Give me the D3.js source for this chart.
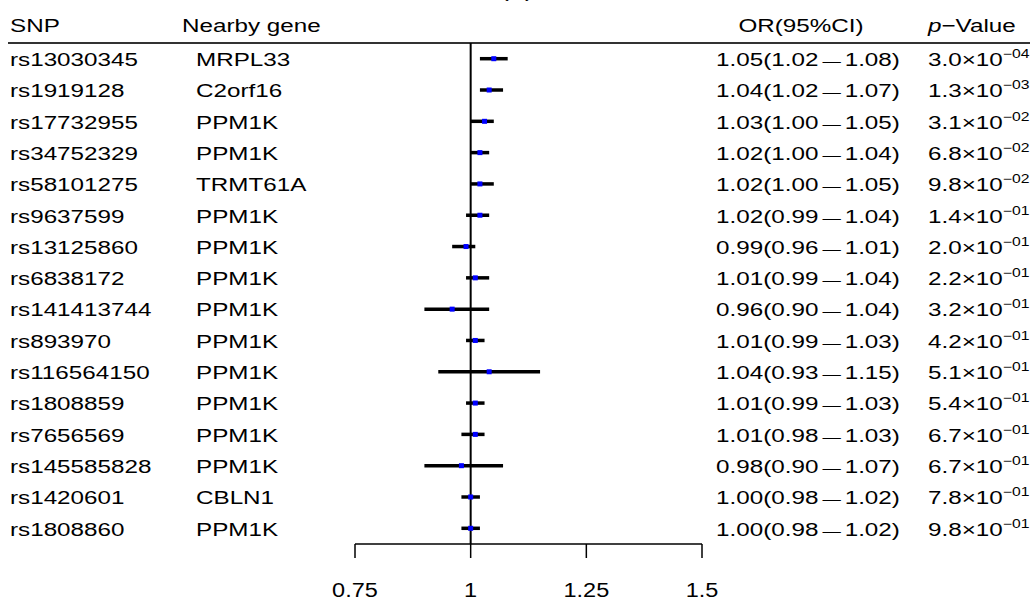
<!DOCTYPE html>
<html><head><meta charset="utf-8">
<script src="https://cdn.jsdelivr.net/npm/d3@7"></script>
<style>body{margin:0;background:#fff;} text{font-family:"Liberation Sans",Arial,sans-serif;fill:#000;}</style>
</head><body>
<svg id="c" width="1036" height="599"></svg>
<script>
const snps = ["rs13030345","rs1919128","rs17732955","rs34752329","rs58101275","rs9637599","rs13125860","rs6838172","rs141413744","rs893970","rs116564150","rs1808859","rs7656569","rs145585828","rs1420601","rs1808860"];
const genes = ["MRPL33","C2orf16","PPM1K","PPM1K","TRMT61A","PPM1K","PPM1K","PPM1K","PPM1K","PPM1K","PPM1K","PPM1K","PPM1K","PPM1K","CBLN1","PPM1K"];
const orVals = [1.05,1.04,1.03,1.02,1.02,1.02,0.99,1.01,0.96,1.01,1.04,1.01,1.01,0.98,1.00,1.00];
const ciLow  = [1.02,1.02,1.00,1.00,1.00,0.99,0.96,0.99,0.90,0.99,0.93,0.99,0.98,0.90,0.98,0.98];
const ciHigh = [1.08,1.07,1.05,1.04,1.05,1.04,1.01,1.04,1.04,1.03,1.15,1.03,1.03,1.07,1.02,1.02];
const pMant = ["3.0","1.3","3.1","6.8","9.8","1.4","2.0","2.2","3.2","4.2","5.1","5.4","6.7","6.7","7.8","9.8"];
const pExp  = ["04","03","02","02","02","01","01","01","01","01","01","01","01","01","01","01"];
const xTicks = [0.75,1,1.25,1.5];
const headers = ["SNP","Nearby gene","OR(95%CI)","p\u2212Value"];

const svg = d3.select("#c");
const x = d3.scaleLinear().domain([0.75,1.5]).range([355,702]);
const y = d3.scaleLinear().domain([0,15]).range([58.7,528.3]);
const FS = 18.5, SX = 1.31, BOFF = 7.3;

function txt(g, px, py, s, anchor, fs, sx){
  return g.append("text")
    .attr("transform",`translate(${px},${py}) scale(${sx||SX},1)`)
    .attr("text-anchor",anchor||"start")
    .style("font-size",(fs||FS)+"px")
    .text(s);
}

// partial title at top
txt(svg, 517, -3, "(A)", "middle");

// headers
txt(svg, 10, 32, headers[0]);
txt(svg, 182, 32, headers[1]);
txt(svg, 801, 32, headers[2], "middle");
const ph = svg.append("text").attr("transform",`translate(928,32) scale(${SX},1)`).style("font-size",FS+"px");
ph.append("tspan").style("font-style","italic").text("p");
ph.append("tspan").text(headers[3].slice(1));

svg.append("line").attr("x1",8).attr("x2",1030).attr("y1",43).attr("y2",43)
  .attr("stroke","#333").attr("stroke-width",2);

// reference line
svg.append("line").attr("x1",x(1)).attr("x2",x(1)).attr("y1",43).attr("y2",544)
  .attr("stroke","#000").attr("stroke-width",2);

// rows
snps.forEach((s,i)=>{
  const yy = y(i);
  txt(svg, 10, yy+BOFF, s);
  txt(svg, 196, yy+BOFF, genes[i]);
  const t = svg.append("text").attr("transform",`translate(808,${yy+BOFF}) scale(${SX},1)`)
    .attr("text-anchor","middle").style("font-size",FS+"px");
  t.append("tspan").text(orVals[i].toFixed(2)+"("+ciLow[i].toFixed(2));
  t.append("tspan").attr("dx",3).style("font-size","14px").text("\u2014");
  t.append("tspan").attr("dx",3).text(ciHigh[i].toFixed(2)+")");
  const p = svg.append("text").attr("transform",`translate(928,${yy+BOFF}) scale(${SX},1)`).style("font-size",FS+"px");
  p.append("tspan").text(pMant[i]+"\u00d710");
  p.append("tspan").attr("dy",-8).style("font-size","12px").text("\u2212"+pExp[i]);
});

// CI lines
svg.append("g").selectAll("line").data(snps).join("line")
  .attr("x1",(d,i)=>x(ciLow[i])).attr("x2",(d,i)=>x(ciHigh[i]))
  .attr("y1",(d,i)=>y(i)).attr("y2",(d,i)=>y(i))
  .attr("stroke","#000").attr("stroke-width",3.5);
// points
svg.append("g").selectAll("rect").data(snps).join("rect")
  .attr("x",(d,i)=>x(orVals[i])-2.5).attr("y",(d,i)=>y(i)-2.5)
  .attr("width",5).attr("height",5).attr("fill","#0000ff");

// axis
const ax = svg.append("g");
ax.append("line").attr("x1",x(xTicks[0])).attr("x2",x(xTicks[xTicks.length-1]))
  .attr("y1",544).attr("y2",544).attr("stroke","#000").attr("stroke-width",1.5);
xTicks.forEach(t=>{
  ax.append("line").attr("x1",x(t)).attr("x2",x(t)).attr("y1",544).attr("y2",558)
    .attr("stroke","#000").attr("stroke-width",1.5);
  txt(ax, x(t), 596.5, String(t), "middle", 21, 1.12);
});
</script>
</body></html>
